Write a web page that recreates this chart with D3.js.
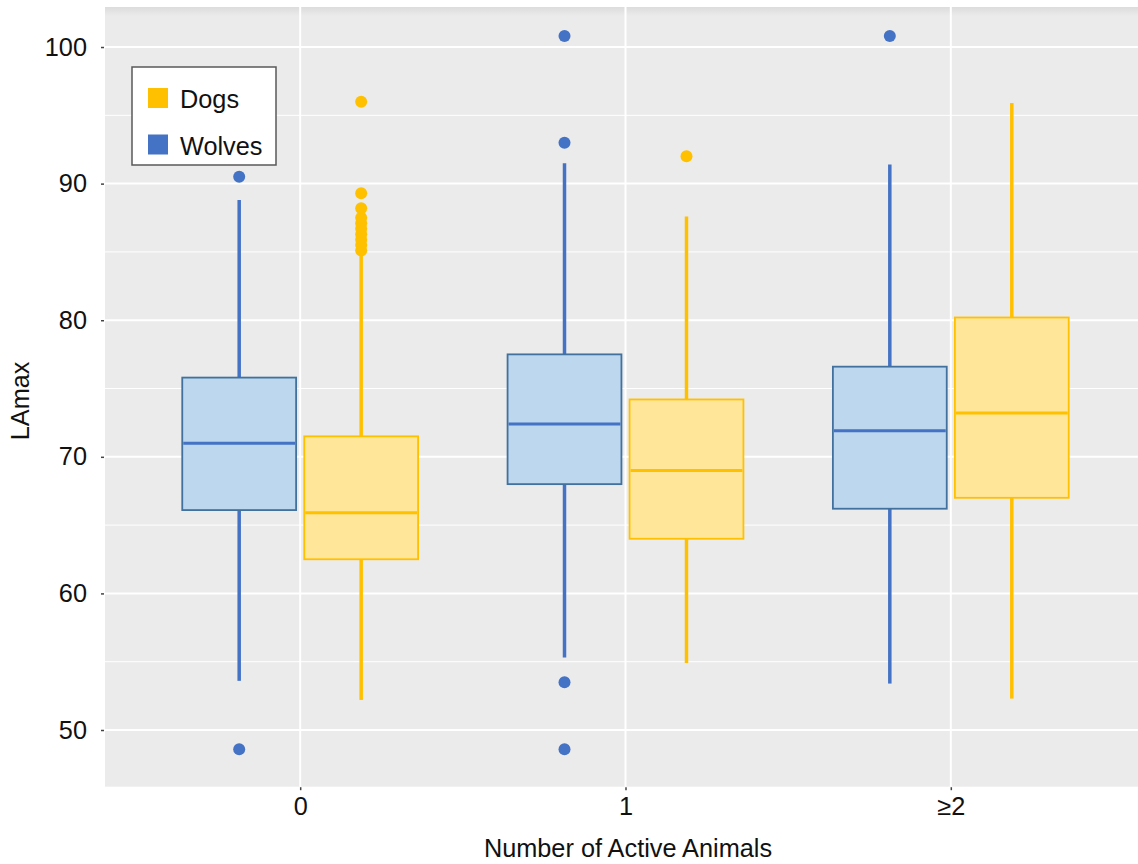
<!DOCTYPE html>
<html>
<head>
<meta charset="utf-8">
<script src="https://cdn.jsdelivr.net/npm/d3@7"></script>
<style>
  html, body { margin: 0; padding: 0; background: #fff; }
  svg { display: block; font-family: "Liberation Sans", Arial, sans-serif; }
</style>
</head>
<body>
<svg id="chart" width="1138" height="864"></svg>
<script>
// ---- data ----
const categories = ["0", "1", "≥2"];
const groups = ["Wolves", "Dogs"];
const legendOrder = ["Dogs", "Wolves"];
const yTicks = [50, 60, 70, 80, 90, 100];

const wolvesLow    = [53.6, 55.3, 53.4];
const wolvesQ1     = [66.1, 68.0, 66.2];
const wolvesMedian = [71.0, 72.4, 71.9];
const wolvesQ3     = [75.8, 77.5, 76.6];
const wolvesHigh   = [88.8, 91.5, 91.4];
const wolvesOutliers = [[90.5, 48.6], [100.8, 93.0, 53.5, 48.6], [100.8]];

const dogsLow    = [52.2, 54.9, 52.3];
const dogsQ1     = [62.5, 64.0, 67.0];
const dogsMedian = [65.9, 69.0, 73.2];
const dogsQ3     = [71.5, 74.2, 80.2];
const dogsHigh   = [84.9, 87.6, 95.9];
const dogsOutliers = [[96.0, 89.3, 88.2, 87.5, 87.1, 86.7, 86.3, 85.9, 85.5, 85.1], [92.0], []];

// ---- styles ----
const style = {
  Wolves: { fill: "#bdd7ee", stroke: "#41719c", line: "#4472c4", key: "#4472c4" },
  Dogs:   { fill: "#ffe699", stroke: "#ffc000", line: "#ffc000", key: "#ffc000" }
};
const FS = 25.3;

const stats = {
  Wolves: categories.map((c, i) => ({ cat: c, low: wolvesLow[i], q1: wolvesQ1[i], med: wolvesMedian[i], q3: wolvesQ3[i], high: wolvesHigh[i], out: wolvesOutliers[i] })),
  Dogs: categories.map((c, i) => ({ cat: c, low: dogsLow[i], q1: dogsQ1[i], med: dogsMedian[i], q3: dogsQ3[i], high: dogsHigh[i], out: dogsOutliers[i] }))
};

const svg = d3.select("#chart");
const panel = { left: 105, right: 1146, top: 7, bottom: 786.7 };

const x = d3.scalePoint().domain(categories).range([panel.left, panel.right]).padding(0.6);
const y = d3.scaleLinear().domain([45.85, 102.93]).range([panel.bottom, panel.top]);
const step = x.step();
const dodge = d3.scaleOrdinal().domain(groups).range([-0.1875 * step, 0.1875 * step]);
const boxW = 0.35 * step;

// panel background
const defs = svg.append("defs");
const grad = defs.append("linearGradient").attr("id", "topShade").attr("x1", 0).attr("y1", 0).attr("x2", 0).attr("y2", 1);
grad.append("stop").attr("offset", "0%").attr("stop-color", "#dcdcdc");
grad.append("stop").attr("offset", "100%").attr("stop-color", "#ebebeb");

svg.append("rect").attr("x", panel.left).attr("y", panel.top)
  .attr("width", panel.right - panel.left).attr("height", panel.bottom - panel.top)
  .attr("fill", "#ebebeb");
svg.append("rect").attr("x", panel.left).attr("y", panel.top)
  .attr("width", panel.right - panel.left).attr("height", 9)
  .attr("fill", "url(#topShade)");

// minor gridlines
const minor = d3.range(45, 103, 5).filter(v => v % 10 !== 0 && v > y.domain()[0] && v < y.domain()[1]);
svg.append("g").selectAll("line").data(minor).join("line")
  .attr("x1", panel.left).attr("x2", panel.right)
  .attr("y1", d => y(d)).attr("y2", d => y(d))
  .attr("stroke", "#ffffff").attr("stroke-width", 1);
// major gridlines
svg.append("g").selectAll("line").data(yTicks).join("line")
  .attr("x1", panel.left).attr("x2", panel.right)
  .attr("y1", d => y(d)).attr("y2", d => y(d))
  .attr("stroke", "#ffffff").attr("stroke-width", 2);
svg.append("g").selectAll("line").data(categories).join("line")
  .attr("x1", d => x(d)).attr("x2", d => x(d))
  .attr("y1", panel.top).attr("y2", panel.bottom)
  .attr("stroke", "#ffffff").attr("stroke-width", 2);

// axes
const yAxis = d3.axisLeft(y).tickValues(yTicks).tickSize(3).tickPadding(14);
const gy = svg.append("g").attr("transform", `translate(${panel.left - 1},0)`).call(yAxis);
gy.select(".domain").remove();
gy.selectAll(".tick line").attr("stroke", "#444").attr("stroke-width", 1.5);
gy.selectAll(".tick text").attr("font-size", FS).attr("fill", "#111").attr("font-family", "Liberation Sans, Arial, sans-serif");

const xAxis = d3.axisBottom(x).tickSize(3).tickPadding(7);
const gx = svg.append("g").attr("transform", `translate(0,${panel.bottom + 0.5})`).call(xAxis);
gx.select(".domain").remove();
gx.selectAll(".tick line").attr("stroke", "#444").attr("stroke-width", 1.5);
gx.selectAll(".tick text").attr("font-size", FS).attr("fill", "#111").attr("font-family", "Liberation Sans, Arial, sans-serif");

// axis titles
svg.append("text").attr("x", 628).attr("y", 857).attr("text-anchor", "middle")
  .attr("font-size", FS).attr("fill", "#111").text("Number of Active Animals");
svg.append("text").attr("transform", `translate(29,${(panel.top + panel.bottom) / 2 + 4}) rotate(-90)`)
  .attr("text-anchor", "middle").attr("font-size", FS).attr("fill", "#111").text("LAmax");

// boxes
groups.forEach(g => {
  const s = style[g];
  const gg = svg.append("g").attr("class", "series-" + g);
  const cx = d => x(d.cat) + dodge(g);
  gg.selectAll("line.wu").data(stats[g]).join("line").attr("class", "wu")
    .attr("x1", cx).attr("x2", cx).attr("y1", d => y(d.q3)).attr("y2", d => y(d.high))
    .attr("stroke", s.line).attr("stroke-width", 3.5);
  gg.selectAll("line.wl").data(stats[g]).join("line").attr("class", "wl")
    .attr("x1", cx).attr("x2", cx).attr("y1", d => y(d.q1)).attr("y2", d => y(d.low))
    .attr("stroke", s.line).attr("stroke-width", 3.5);
  gg.selectAll("rect.box").data(stats[g]).join("rect").attr("class", "box")
    .attr("x", d => cx(d) - boxW / 2).attr("width", boxW)
    .attr("y", d => y(d.q3)).attr("height", d => y(d.q1) - y(d.q3))
    .attr("fill", s.fill).attr("stroke", s.stroke).attr("stroke-width", 1.8);
  gg.selectAll("line.med").data(stats[g]).join("line").attr("class", "med")
    .attr("x1", d => cx(d) - boxW / 2 + 1).attr("x2", d => cx(d) + boxW / 2 - 1)
    .attr("y1", d => y(d.med)).attr("y2", d => y(d.med))
    .attr("stroke", s.line).attr("stroke-width", 3);
  const outs = stats[g].flatMap(d => d.out.map(v => ({ cat: d.cat, v })));
  gg.selectAll("circle").data(outs).join("circle")
    .attr("cx", cx).attr("cy", d => y(d.v)).attr("r", 6)
    .attr("fill", s.line);
});

// legend
const lg = svg.append("g");
lg.append("rect").attr("x", 132).attr("y", 67).attr("width", 144).attr("height", 98)
  .attr("fill", "#fff").attr("stroke", "#595959").attr("stroke-width", 1.5);
legendOrder.forEach((g, i) => {
  lg.append("rect").attr("x", 148).attr("y", 88 + i * 46.5).attr("width", 20).attr("height", 20)
    .attr("fill", style[g].key);
  lg.append("text").attr("x", 180).attr("y", 108 + i * 46.5).attr("font-size", FS)
    .attr("fill", "#111").text(g);
});
</script>
</body>
</html>
